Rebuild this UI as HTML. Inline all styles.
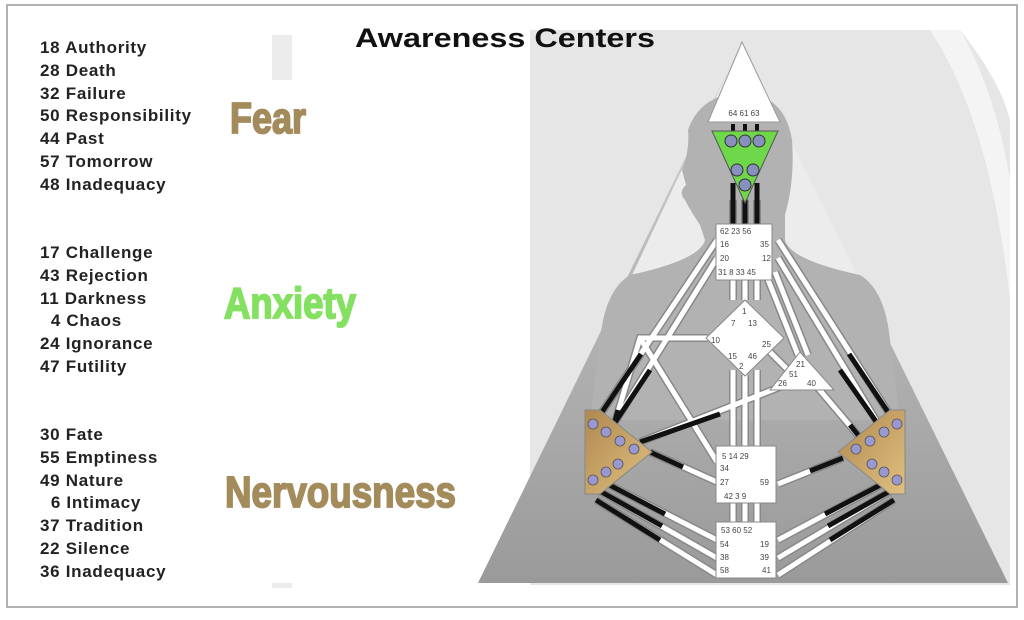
<!DOCTYPE html>
<html><head><meta charset="utf-8"><style>
body{margin:0;width:1024px;height:615px;background:#fff;overflow:hidden;font-family:"Liberation Sans",sans-serif}
</style></head><body>
<svg width="1024" height="615" viewBox="0 0 1024 615" xmlns="http://www.w3.org/2000/svg" font-family="Liberation Sans, sans-serif">
<defs>
<linearGradient id="tri" x1="0" y1="0" x2="0" y2="1">
<stop offset="0" stop-color="#d4d4d4"/><stop offset="0.5" stop-color="#b4b4b4"/><stop offset="1" stop-color="#9a9a9a"/>
</linearGradient>
<linearGradient id="tan" x1="0" y1="0" x2="1" y2="1">
<stop offset="0" stop-color="#b08850"/><stop offset="1" stop-color="#e0c080"/>
</linearGradient>
</defs>
<rect x="7" y="5" width="1010" height="602" fill="#fff" stroke="#999" stroke-width="1.5"/>
<rect x="530" y="30" width="480" height="555" fill="#e6e6e6"/>
<path d="M960 30 Q1000 80 1010 120 L1010 30 Z" fill="#fff"/>
<path d="M930 30 Q990 120 1010 300 L1010 180 Q995 90 960 30 Z" fill="#f4f4f4"/>
<polygon points="742,42 478,583 1008,583" fill="url(#tri)"/>
<polygon points="742,42 625,290 865,290" fill="#ececec"/>
<path d="M700 225 Q690 210 685 200 Q678 192 686 185 L682 170 Q690 150 688 130 Q700 95 742 92 Q785 95 792 140 Q795 180 785 215 L785 240 Q790 260 860 275 Q885 290 890 340 L900 420 L590 420 L600 340 Q605 290 630 275 Q700 260 705 240 Z" fill="#b2b2b2"/>
<g stroke="#888" stroke-width="8" fill="none" stroke-linecap="butt">
<path d="M733 280 V300 M745 280 V300 M757 280 V300 M733 370 V447 M745 375 V447 M757 370 V447 M733 502 V523 M745 502 V523 M757 502 V523"/>
<path d="M733 200 V224 M745 200 V224 M757 200 V224"/>
<path d="M717 240 L598 418 M717 258 L610 430 M778 240 L892 418 M778 258 L882 430 M775 272 L808 355 M765 272 L798 355"/>
<path d="M708 338 L640 338 L612 432"/>
<path d="M640 338 L717 462"/>
<path d="M770 352 L790 372 M785 385 L640 442 M818 388 L862 440 M650 452 L717 482 M843 458 L778 484"/>
<path d="M600 480 L717 540 M598 490 L717 558 M596 500 L717 575 M890 480 L778 540 M892 490 L778 558 M894 500 L778 575"/>
</g>
<g stroke="#fff" stroke-width="5" fill="none">
<path d="M733 280 V300 M745 280 V300 M757 280 V300 M733 370 V447 M745 375 V447 M757 370 V447 M733 502 V523 M745 502 V523 M757 502 V523"/>
<path d="M717 240 L598 418 M717 258 L610 430 M778 240 L892 418 M778 258 L882 430 M775 272 L808 355 M765 272 L798 355"/>
<path d="M708 338 L640 338 L612 432 M640 338 L717 462"/>
<path d="M770 352 L790 372 M785 385 L640 442 M818 388 L862 440 M650 452 L717 482 M843 458 L778 484"/>
<path d="M600 480 L717 540 M598 490 L717 558 M596 500 L717 575 M890 480 L778 540 M892 490 L778 558 M894 500 L778 575"/>
</g>
<g stroke="#111" stroke-width="5" fill="none">
<path d="M733 183 V224 M745 190 V224 M757 183 V224"/>
<path d="M641 354 L598 418 M650 370 L610 430 M849 354 L892 418 M840 370 L882 430"/>
<path d="M720 414 L640 442 M618 410 L612 432 M850 425 L862 440"/>
<path d="M650 452 L683 467 M843 458 L810 471"/>
<path d="M600 480 L665 514 M598 490 L662 526 M596 500 L660 540 M890 480 L825 514 M892 490 L828 526 M894 500 L830 540"/>
</g>
<polygon points="742,42 708,122 780,122" fill="#fff" stroke="#999"/>
<text x="744" y="116" font-size="8" text-anchor="middle" fill="#444">64 61 63</text>
<rect x="731" y="124" width="4" height="8" fill="#111"/><rect x="743" y="124" width="4" height="8" fill="#111"/><rect x="755" y="124" width="4" height="8" fill="#111"/>
<polygon points="712,131 778,131 745,203" fill="#6fd84a" stroke="#555"/>
<g fill="#8890c0" stroke="#333" stroke-width="1">
<circle cx="731" cy="141" r="6"/><circle cx="745" cy="141" r="6"/><circle cx="759" cy="141" r="6"/>
<circle cx="737" cy="170" r="6"/><circle cx="753" cy="170" r="6"/><circle cx="745" cy="185" r="6"/>
</g>
<rect x="716" y="224" width="56" height="56" fill="#fff" stroke="#888"/>
<g font-size="8" fill="#444">
<text x="720" y="234">62 23 56</text><text x="720" y="247">16</text><text x="760" y="247">35</text>
<text x="720" y="261">20</text><text x="762" y="261">12</text><text x="718" y="275">31 8 33 45</text>
</g>
<polygon points="745,300 784,338 745,376 706,338" fill="#fff" stroke="#888"/>
<g font-size="8" fill="#444"><text x="742" y="314">1</text><text x="731" y="326">7</text><text x="748" y="326">13</text>
<text x="711" y="343">10</text><text x="762" y="347">25</text><text x="728" y="359">15</text><text x="748" y="359">46</text><text x="739" y="369">2</text></g>
<polygon points="800,352 770,390 834,390" fill="#fff" stroke="#888"/>
<g font-size="8" fill="#444"><text x="796" y="367">21</text><text x="789" y="377">51</text><text x="778" y="386">26</text><text x="807" y="386">40</text></g>
<polygon points="585,410 600,410 652,452 600,494 585,494" fill="url(#tan)" stroke="#888"/>
<polygon points="905,410 890,410 838,452 890,494 905,494" fill="url(#tan)" stroke="#888"/>
<g fill="#9a98d0" stroke="#555" stroke-width="0.8">
<circle cx="593" cy="424" r="5"/><circle cx="606" cy="432" r="5"/><circle cx="620" cy="441" r="5"/><circle cx="634" cy="449" r="5"/>
<circle cx="593" cy="480" r="5"/><circle cx="606" cy="472" r="5"/><circle cx="618" cy="464" r="5"/>
<circle cx="897" cy="424" r="5"/><circle cx="884" cy="432" r="5"/><circle cx="870" cy="441" r="5"/><circle cx="856" cy="449" r="5"/>
<circle cx="897" cy="480" r="5"/><circle cx="884" cy="472" r="5"/><circle cx="872" cy="464" r="5"/>
</g>
<rect x="716" y="446" width="60" height="57" fill="#fff" stroke="#888"/>
<g font-size="8" fill="#444"><text x="722" y="459">5 14 29</text><text x="720" y="471">34</text><text x="720" y="485">27</text><text x="760" y="485">59</text><text x="724" y="499">42 3 9</text></g>
<rect x="716" y="522" width="60" height="56" fill="#fff" stroke="#888"/>
<g font-size="8" fill="#444"><text x="721" y="533">53 60 52</text><text x="720" y="547">54</text><text x="760" y="547">19</text><text x="720" y="560">38</text><text x="760" y="560">39</text><text x="720" y="573">58</text><text x="762" y="573">41</text></g>
<rect x="272" y="35" width="20" height="45" fill="#ececec"/>
<rect x="272" y="583" width="20" height="5" fill="#ececec"/>
<text x="355" y="47" font-size="27" font-weight="bold" fill="#111" textLength="300" lengthAdjust="spacingAndGlyphs">Awareness Centers</text>
<g font-size="17" font-weight="bold" fill="#222" letter-spacing="0.7">
<text x="40" y="53">18  Authority</text><text x="40" y="76">28 Death</text><text x="40" y="99">32 Failure</text><text x="40" y="121">50 Responsibility</text><text x="40" y="144">44 Past</text><text x="40" y="167">57 Tomorrow</text><text x="40" y="190">48 Inadequacy</text>
<text x="40" y="258">17 Challenge</text><text x="40" y="281">43 Rejection</text><text x="40" y="304">11 Darkness</text><text x="40" y="326" xml:space="preserve">  4 Chaos</text><text x="40" y="349">24 Ignorance</text><text x="40" y="372">47 Futility</text>
<text x="40" y="440">30 Fate</text><text x="40" y="463">55 Emptiness</text><text x="40" y="486">49 Nature</text><text x="40" y="508" xml:space="preserve">  6 Intimacy</text><text x="40" y="531">37 Tradition</text><text x="40" y="554">22 Silence</text><text x="40" y="577">36 Inadequacy</text>
</g>
<g font-weight="bold" font-size="44" stroke-width="1.8">
<text x="230" y="133" fill="#a38b5b" stroke="#a38b5b" textLength="76" lengthAdjust="spacingAndGlyphs">Fear</text>
<text x="224" y="318" fill="#84e060" stroke="#84e060" textLength="132" lengthAdjust="spacingAndGlyphs">Anxiety</text>
<text x="225" y="507" fill="#a38b5b" stroke="#a38b5b" textLength="231" lengthAdjust="spacingAndGlyphs">Nervousness</text>
</g>
</svg>
</body></html>
